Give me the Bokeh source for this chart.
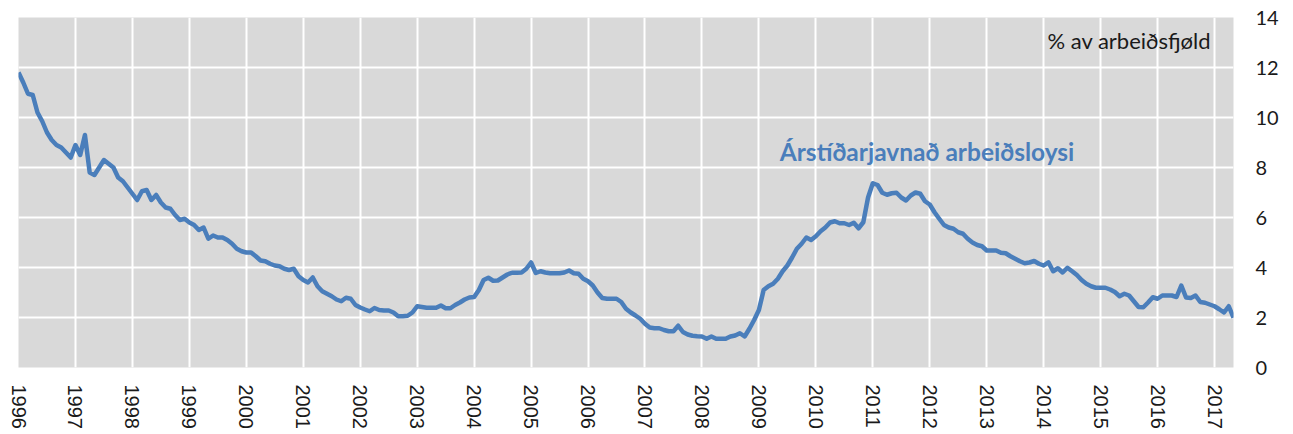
import math
from bokeh.plotting import figure
from bokeh.models import Range1d, FixedTicker, LinearAxis, Label, ColumnDataSource
from bokeh.embed import file_html
from bokeh.resources import INLINE

# Seasonally adjusted unemployment, % of labour force, monthly from Jan 1996
y1996 = [11.8, 11.4, 10.95, 10.9, 10.2, 9.85, 9.4, 9.1, 8.9, 8.8, 8.6, 8.4]
y1997 = [8.9, 8.5, 9.3, 7.8, 7.7, 8.0, 8.3, 8.15, 8.0, 7.6, 7.45, 7.2]
y1998 = [6.95, 6.7, 7.05, 7.1, 6.7, 6.9, 6.6, 6.4, 6.35, 6.1, 5.9, 5.95]
y1999 = [5.8, 5.7, 5.5, 5.6, 5.15, 5.28, 5.2, 5.2, 5.1, 4.95, 4.75, 4.65]
y2000 = [4.6, 4.6, 4.45, 4.28, 4.25, 4.15, 4.08, 4.05, 3.95, 3.9, 3.95, 3.65]
y2001 = [3.5, 3.4, 3.6, 3.25, 3.05, 2.95, 2.85, 2.72, 2.65, 2.79, 2.75, 2.5]
y2002 = [2.4, 2.32, 2.25, 2.38, 2.3, 2.28, 2.28, 2.2, 2.05, 2.05, 2.07, 2.2]
y2003 = [2.45, 2.42, 2.39, 2.39, 2.39, 2.48, 2.37, 2.37, 2.5, 2.6, 2.72, 2.8]
y2004 = [2.82, 3.1, 3.5, 3.59, 3.47, 3.48, 3.6, 3.72, 3.79, 3.79, 3.8, 3.95]
y2005 = [4.2, 3.78, 3.85, 3.8, 3.77, 3.77, 3.77, 3.8, 3.88, 3.77, 3.75, 3.55]
y2006 = [3.45, 3.28, 3.0, 2.78, 2.75, 2.75, 2.75, 2.62, 2.35, 2.2, 2.08, 1.95]
y2007 = [1.75, 1.6, 1.57, 1.57, 1.5, 1.45, 1.45, 1.67, 1.42, 1.32, 1.27, 1.25]
y2008 = [1.24, 1.15, 1.24, 1.15, 1.15, 1.15, 1.24, 1.28, 1.37, 1.24, 1.55, 1.9]
y2009 = [2.3, 3.1, 3.25, 3.35, 3.55, 3.85, 4.08, 4.4, 4.75, 4.95, 5.2, 5.1]
y2010 = [5.25, 5.45, 5.6, 5.8, 5.85, 5.77, 5.77, 5.7, 5.79, 5.57, 5.81, 6.8]
y2011 = [7.37, 7.3, 6.99, 6.91, 6.97, 6.99, 6.8, 6.68, 6.88, 7.0, 6.95, 6.65]
y2012 = [6.52, 6.21, 5.95, 5.7, 5.6, 5.55, 5.41, 5.35, 5.15, 5.0, 4.9, 4.85]
y2013 = [4.68, 4.68, 4.68, 4.59, 4.57, 4.45, 4.35, 4.25, 4.17, 4.2, 4.26, 4.15]
y2014 = [4.08, 4.21, 3.85, 3.97, 3.8, 3.99, 3.85, 3.7, 3.5, 3.35, 3.25, 3.19]
y2015 = [3.19, 3.19, 3.12, 3.02, 2.85, 2.95, 2.88, 2.65, 2.42, 2.41, 2.6, 2.81]
y2016 = [2.75, 2.88, 2.88, 2.88, 2.82, 3.28, 2.8, 2.78, 2.88, 2.62, 2.59, 2.52]
y2017 = [2.45, 2.33, 2.2, 2.45, 1.99]

years = [str(y) for y in range(1996, 2018)]
y_ticks = [0, 2, 4, 6, 8, 10, 12, 14]

series_label = "Árstíðarjavnað arbeiðsloysi"
unit_label = "% av arbeiðsfjøld"

values = (y1996 + y1997 + y1998 + y1999 + y2000 + y2001 + y2002 + y2003 + y2004 +
          y2005 + y2006 + y2007 + y2008 + y2009 + y2010 + y2011 + y2012 + y2013 +
          y2014 + y2015 + y2016 + y2017)
months = list(range(len(values)))
src = ColumnDataSource(dict(x=months, y=values))

BLUE = "#4A7EBB"

p = figure(frame_width=1215, frame_height=350, output_backend="svg", toolbar_location=None,
           x_range=Range1d(0, len(values) - 1), y_range=Range1d(0, 14),
           y_axis_location=None,
           min_border_left=18, min_border_right=44, min_border_top=17, min_border_bottom=62)
p.background_fill_color = "#D9D9D9"
p.border_fill_color = "white"
p.outline_line_color = None

year_ticks = [12 * i for i in range(len(years))]
p.xaxis.ticker = FixedTicker(ticks=year_ticks)
p.xaxis.major_label_overrides = {12 * i: years[i] for i in range(len(years))}
p.xaxis.major_label_orientation = -math.pi / 2
p.xaxis.major_label_text_font = "Liberation Sans"
p.xaxis.major_label_text_font_size = "20px"
p.xaxis.major_label_text_color = "#1a1a1a"
p.xaxis.major_label_standoff = 17
p.xaxis.major_tick_out = 0
p.xaxis.major_tick_in = 0
p.xaxis.axis_line_color = None
p.xaxis.major_tick_line_color = None
p.xaxis.minor_tick_line_color = None

yax = LinearAxis(ticker=FixedTicker(ticks=y_ticks))
yax.major_label_text_font = "Lato"
yax.major_label_text_font_size = "20px"
yax.major_label_text_color = "#1a1a1a"
yax.major_label_standoff = 22
yax.major_tick_out = 0
yax.major_tick_in = 0
yax.axis_line_color = None
yax.major_tick_line_color = None
yax.minor_tick_line_color = None
p.add_layout(yax, "right")

p.xgrid.ticker = FixedTicker(ticks=year_ticks)
p.xgrid.grid_line_color = "white"
p.xgrid.grid_line_width = 2
p.ygrid.ticker = FixedTicker(ticks=y_ticks)
p.ygrid.grid_line_color = "white"
p.ygrid.grid_line_width = 2

p.line("x", "y", source=src, line_color=BLUE, line_width=4.5, line_join="round")

p.add_layout(Label(x=160.4, y=8.64, text=series_label, text_font="Lato",
                   text_font_style="bold", text_font_size="24.5px", text_color=BLUE,
                   text_baseline="middle", text_align="left"))
p.add_layout(Label(x=216.8, y=13.08, text=unit_label, text_font="Lato",
                   text_font_size="22px", text_color="#1a1a1a",
                   text_baseline="middle", text_align="left"))

open("out.html", "w").write(file_html(p, INLINE))
